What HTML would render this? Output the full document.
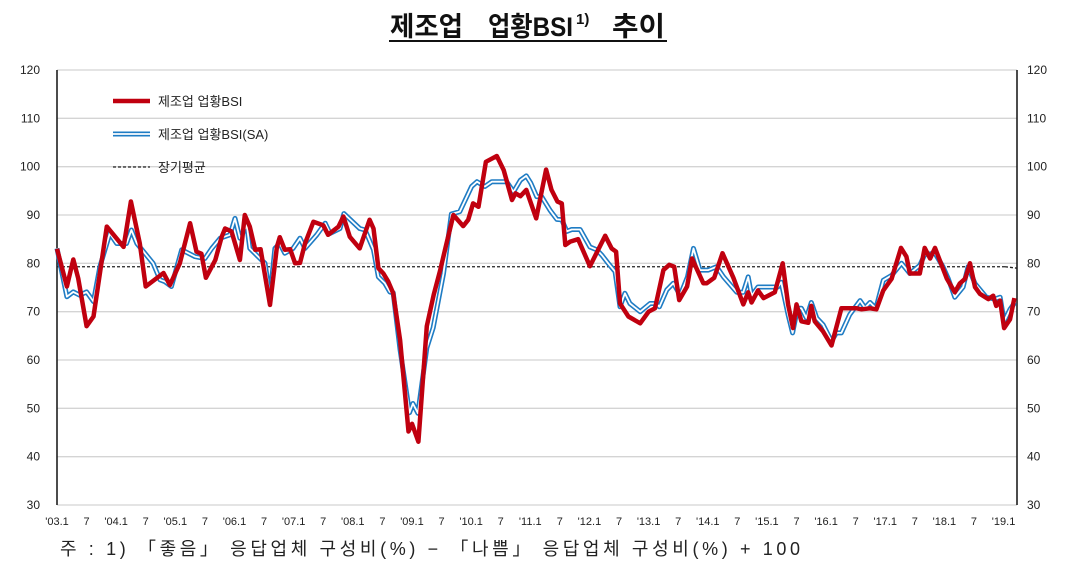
<!DOCTYPE html>
<html><head><meta charset="utf-8"><style>
body{margin:0;background:#fff;width:1074px;height:572px;overflow:hidden;font-family:"Liberation Sans","Noto Sans CJK KR",sans-serif}
</style></head><body>
<svg id="s" width="1074" height="572" xmlns="http://www.w3.org/2000/svg" font-family="Liberation Sans, Noto Sans CJK KR, sans-serif">
<g font-size="27" font-weight="bold" fill="#111">
<text x="390" y="36" textLength="73" lengthAdjust="spacingAndGlyphs">제조업</text>
<text x="488" y="36" textLength="85" lengthAdjust="spacingAndGlyphs">업황BSI</text>
<text x="576" y="24" font-size="15">1)</text>
<text x="612" y="36" textLength="53" lengthAdjust="spacingAndGlyphs">추이</text>
</g>
<line x1="389" y1="41" x2="667" y2="41" stroke="#111" stroke-width="2"/>
<g id="g"></g>
<text x="60" y="555" font-size="18" fill="#222" textLength="740" lengthAdjust="spacing">주 : 1) 「좋음」 응답업체 구성비(%) − 「나쁨」 응답업체 구성비(%) + 100</text>
</svg>
<script>
const g=document.getElementById('g');let h='';
const X0=57,DX=4.93,Y=v=>505-(v-30)*4.8333;
for(let v=30;v<=120;v+=10){const y=Y(v);h+=`<line x1="57" x2="1017" y1="${y}" y2="${y}" stroke="#d4d4d4" stroke-width="1.3"/>`;
h+=`<text x="40" y="${y+4}" font-size="12" text-anchor="end" fill="#222">${v}</text><text x="1027" y="${y+4}" font-size="12" fill="#222">${v}</text>`;}
h+=`<line x1="57" x2="57" y1="70" y2="505" stroke="#111" stroke-width="1.5"/><line x1="1017" x2="1017" y1="70" y2="505" stroke="#111" stroke-width="1.5"/>`;
for(let i=0;i<=192;i+=6){const x=X0+i*DX;const yr=3+i/12;const lab=i%12==0?"'"+String(yr).padStart(2,'0')+".1":"7";
h+=`<text x="${x}" y="525" font-size="11" text-anchor="middle" fill="#222">${lab}</text>`;}
h+=`<line x1="57" x2="1005" y1="${Y(79.3)}" y2="${Y(79.3)}" stroke="#222" stroke-width="1.3" stroke-dasharray="3,2"/><line x1="1005" x2="1017" y1="${Y(79.3)}" y2="${Y(79)}" stroke="#222" stroke-width="1.3" stroke-dasharray="3,2"/>`;
const red=[[0,83],[2,75.2],[3.3,80.8],[4.3,76.9],[6,67],[7.4,69],[10.1,87.6],[13.5,83.4],[15,92.8],[16.8,84.1],[18,75.2],[21.6,78],[22.9,75.5],[24.9,80],[27,88.3],[28.3,82.4],[29.3,82],[30.2,77],[32.1,80.7],[33.4,85.5],[34.1,87.2],[35.4,86.6],[37.1,80.7],[38.1,90],[39.1,87.6],[40.2,82.8],[41.3,82.9],[43.2,71.4],[44.6,83.4],[45.2,85.4],[46.2,82.8],[47.3,82.9],[48.3,80],[49.3,80.1],[50.3,84.1],[52,88.6],[54,87.9],[55,85.9],[57.1,87.6],[58.1,89.7],[59.4,85.5],[61.4,83.1],[63.4,89],[64.2,87.2],[65.2,79],[66.2,77.9],[67.2,76.2],[68.2,73.8],[69.6,64.1],[71.3,45.2],[72,46.8],[73.3,43.1],[75,67],[76.4,73.5],[77.7,78.5],[79,84.1],[80.4,90],[82.4,87.7],[83.4,89],[84.4,92.4],[85.5,91.7],[87,101],[89.2,102.2],[90.6,99.3],[92.3,93.1],[93,94.5],[94,93.9],[95.2,95.2],[97.2,89.3],[99.2,99.4],[100.3,95.2],[101.5,92.8],[102.4,92.4],[103.1,83.8],[104.1,84.5],[105.7,85],[108.1,79.4],[111.2,85.7],[112.5,83.1],[113.4,82.4],[114.2,71.7],[115.9,69],[118.3,67.6],[120,70],[121.3,70.7],[123,78.6],[124.2,79.7],[125.2,79.3],[126.2,72.4],[127.8,75.2],[128.8,81],[131.1,75.9],[131.8,75.9],[133.3,77],[135,82.1],[137.2,77],[139.2,71.5],[140.2,74],[140.9,71.9],[142.2,74.4],[143.3,72.8],[145.6,74],[147.2,80],[148.3,71.5],[149.3,66.6],[150,71.5],[151,68],[152.4,67.7],[153,71.2],[153.7,68],[155.4,65.9],[157.1,63],[159.1,70.7],[162.2,70.7],[163.2,70.5],[164.9,70.7],[166.2,70.5],[167.6,74.4],[169.3,76.8],[171.2,83.2],[172.3,81.4],[173,77.9],[175,77.9],[176,83.2],[177.1,81],[178.1,83.2],[180.5,76.8],[182.1,74],[183.1,75.8],[184.2,76.8],[185.2,80],[186.2,75.1],[187.2,73.7],[188.9,72.6],[189.9,73.3],[190.5,71.2],[191.3,72.3],[192.1,66.6],[193.3,68.4],[194.2,72.8]];
const blue=[[0,83.1],[2,73.1],[3.3,74.1],[4.6,73.4],[6,74.1],[7.4,72.1],[8.7,79.3],[10.7,86.2],[12.1,84.1],[14.1,84.1],[15.1,86.9],[16.2,84.1],[19.5,80],[20.9,76.6],[21.9,76.2],[23.2,75.2],[25.3,82.8],[28,81.4],[30,81],[31.4,83.1],[33.1,85.2],[35.1,85.9],[36.1,89.3],[37.1,85.2],[38.5,87.9],[39.1,83.1],[40.8,81.4],[42.2,80],[43.2,73.1],[44.2,83.1],[45.2,84.1],[46.2,82.1],[47.9,83.1],[49.3,85.2],[50.3,83.1],[52.7,85.9],[54.4,88.3],[55.4,86.2],[57.4,87.2],[58.2,90.3],[61.4,87.2],[62.5,86.9],[64.2,82.8],[65.2,77.2],[66.5,75.9],[67.5,74.1],[68.2,73.9],[69.6,62.1],[71.5,49.1],[72.2,51],[73.2,49],[75,62.5],[76.3,66.7],[78.4,77.9],[80,90.2],[81.7,90.7],[84.1,95.9],[85.2,96.9],[86.8,95.9],[88.2,96.9],[91.2,96.9],[92.6,94.8],[94,97.2],[95.2,98.1],[96.1,96.6],[97.3,93.8],[98.3,93.8],[100,91],[101.4,89.1],[102.4,89],[103.4,86.6],[104.4,87],[106.1,87],[108.1,83.4],[109.5,82.8],[110.5,81.7],[111.8,80],[113.2,78.3],[114.2,71],[115.2,73.8],[116.2,71.7],[118.3,70],[120.3,71.7],[121.5,71.7],[122.2,71],[123.7,74.5],[125,75.9],[126.4,73.4],[127.9,77.2],[129.1,83.1],[130.4,78.6],[132.1,78.6],[133.8,79.3],[135.2,77.2],[137.9,74],[139.2,74],[140.2,77.2],[140.9,73.3],[142.2,75.1],[146.2,75.1],[146.9,76.1],[148.3,69.4],[149.2,65.6],[150.2,70.7],[151,70.7],[152,68.7],[153,71.9],[154.1,68.7],[155.4,67.3],[157.1,63.9],[158.1,65.6],[159.1,65.6],[160.8,69.4],[162.9,72.3],[163.9,70.8],[164.9,71.9],[166.1,70.7],[167.6,76.5],[169.3,77.5],[171.3,80],[173,77.9],[175,79.6],[176,81.8],[178.1,82.1],[179.7,79.3],[180.8,76.8],[182.1,73],[183.8,75.1],[184.8,79.3],[186.2,75.8],[188.5,73],[190.2,72.6],[191.3,73],[192.1,68],[193.3,70.5],[194.3,71.9]];
const pts=a=>a.map(p=>(X0+p[0]*DX).toFixed(1)+','+Y(p[1]).toFixed(1)).join(' ');
h+=`<polyline points="${pts(blue)}" fill="none" stroke="#1f7cc4" stroke-width="5" stroke-linejoin="round"/><polyline points="${pts(blue)}" fill="none" stroke="#fff" stroke-width="1.8" stroke-linejoin="round"/>`;
h+=`<polyline points="${pts(red)}" fill="none" stroke="#c0000f" stroke-width="4.5" stroke-linejoin="round"/>`;
h+=`<line x1="113" x2="150" y1="101" y2="101" stroke="#c0000f" stroke-width="4.5"/><text x="158" y="106" font-size="13" fill="#222">제조업 업황BSI</text>`;
h+=`<line x1="113" x2="150" y1="134" y2="134" stroke="#1f7cc4" stroke-width="5"/><line x1="113" x2="150" y1="134" y2="134" stroke="#fff" stroke-width="1.8"/><text x="158" y="139" font-size="13" fill="#222">제조업 업황BSI(SA)</text>`;
h+=`<line x1="113" x2="150" y1="167" y2="167" stroke="#222" stroke-width="1.3" stroke-dasharray="3,2"/><text x="158" y="172" font-size="13" fill="#222">장기평균</text>`;
g.innerHTML=h;
</script>
</body></html>
